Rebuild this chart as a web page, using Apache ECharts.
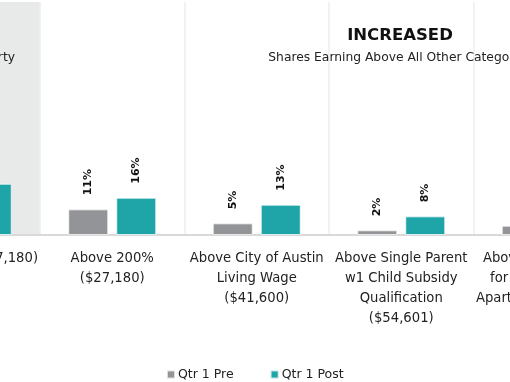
<!DOCTYPE html>
<html>
<head>
<meta charset="utf-8">
<script src="https://cdn.jsdelivr.net/npm/echarts@6/dist/echarts.min.js"></script>
<style>
html,body{margin:0;padding:0;width:510px;height:382px;overflow:hidden;background:#fff;}
#chart{position:absolute;left:-120px;top:0;width:760px;height:382px;}
</style>
</head>
<body>
<div id="chart"></div>
<script>
var categories = [
  'Below 200% ($27,180)',
  'Above 200%\n($27,180)',
  'Above City of Austin\nLiving Wage\n($41,600)',
  'Above Single Parent\nw1 Child Subsidy\nQualification\n($54,601)',
  'Above Affordability\nfor Average 1 BR\nApartment ($58,480)'
];
var seriesNames = ['Qtr 1 Pre', 'Qtr 1 Post'];
var preValues = [30, 11, 5, 2, 4];
var postValues = [22, 16, 13, 8, 9];
var panelTitle = 'INCREASED';
var panelSubtitle = 'Shares Earning Above All Other Categories';
var leftSubtitle = 'Shares Earning Below Poverty';

var FONT = 'DejaVu Sans';
var chart = echarts.init(document.getElementById('chart'));
var labelOpt = {
  show: true,
  position: 'top',
  rotate: 90,
  align: 'left',
  verticalAlign: 'middle',
  distance: 14,
  formatter: function(p){ return p.value + '%'; },
  fontFamily: FONT,
  fontWeight: 'bold',
  fontSize: 11,
  color: '#111'
};
chart.setOption({
  animation: false,
  grid: {left: 15.5, right: 22, top: 2, bottom: 147},
  title: [
    {text: panelTitle, left: 515, top: 22, textAlign: 'center',
     textStyle: {fontFamily: FONT, fontWeight: 'bold', fontSize: 16.5, color: '#111'}},
    {text: panelSubtitle, left: 515, top: 47, textAlign: 'center',
     textStyle: {fontFamily: FONT, fontWeight: 'normal', fontSize: 12.3, color: '#222'}},
    {text: leftSubtitle, left: 130, top: 47, textAlign: 'right',
     textStyle: {fontFamily: FONT, fontWeight: 'normal', fontSize: 12.3, color: '#222'}}
  ],
  xAxis: {
    type: 'category',
    data: categories,
    axisLine: {show: true, lineStyle: {color: '#d9d9d9', width: 2}},
    axisTick: {show: false},
    axisLabel: {
      interval: 0, margin: 14, fontFamily: FONT, fontSize: 13.2, color: '#222', lineHeight: 20,
      formatter: function(v, i){ return i === 0 ? '{s|' + v + '}' : v; },
      rich: {s: {fontFamily: FONT, fontSize: 13.2, color: '#222', lineHeight: 20, padding: [0, 10, 0, 0]}}
    },
    splitLine: {show: true, lineStyle: {color: '#eeeeee', width: 1.5}},
    splitArea: {show: true, areaStyle: {color: ['#e8e9e9', '#ffffff', '#ffffff', '#ffffff', '#ffffff']}}
  },
  yAxis: {type: 'value', min: 0, max: 100, show: false, splitLine: {show: false}},
  legend: {
    data: seriesNames,
    left: 281,
    top: 363,
    icon: 'rect',
    itemWidth: 8,
    itemHeight: 8,
    itemGap: 36,
    textStyle: {fontFamily: FONT, fontSize: 12.5, color: '#222', padding: [0, 0, 0, -2]}
  },
  series: [
    {name: seriesNames[0], type: 'bar', data: preValues, barWidth: 40, barGap: '20%',
     itemStyle: {color: '#939497', borderColor: 'rgba(255,255,255,0.7)', borderWidth: 1}, label: labelOpt},
    {name: seriesNames[1], type: 'bar', data: postValues, barWidth: 40,
     itemStyle: {color: '#1fa4a8', borderColor: 'rgba(255,255,255,0.7)', borderWidth: 1}, label: labelOpt}
  ]
});
</script>
</body>
</html>
